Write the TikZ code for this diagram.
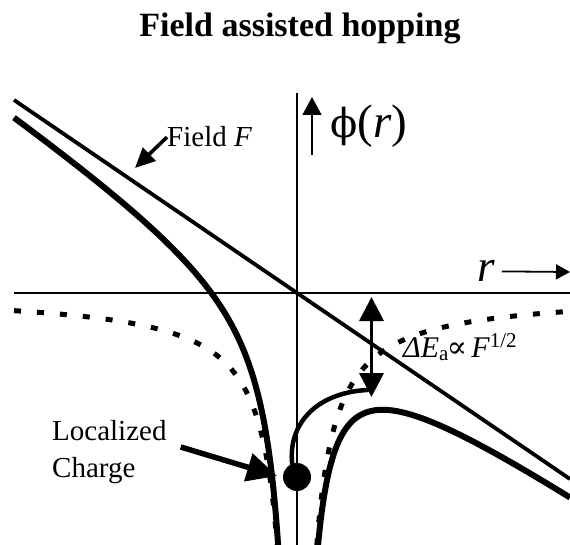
\documentclass[tikz,border=0pt]{standalone}
\usepackage{fontspec}
\setmainfont{Liberation Serif}
\newfontfamily\symf{DejaVu Serif}
\usetikzlibrary{arrows.meta}

\begin{document}
\begin{tikzpicture}[x=1pt, y=-1pt,
  ax/.style={line width=1.8pt},
  axptr/.style={line width=1.6pt, -{Triangle[length=18pt, width=19pt]}},
  rptr/.style={line width=1.8pt, -{Triangle[length=14pt, width=15pt]}},
  fld/.style={line width=3.8pt},
  pot/.style={line width=6pt, line join=round},
  coul/.style={line width=5pt, dash pattern=on 7pt off 16pt},
  ptr/.style={line width=3.6pt, -{Triangle[length=20pt, width=18pt]}},
  bigptr/.style={line width=5.5pt, -{Triangle[length=30pt, width=28pt]}},
  dbl/.style={line width=3.5pt, {Triangle[length=24pt, width=24pt]}-{Triangle[length=24pt, width=24pt]}},
  hop/.style={line width=4.5pt, line cap=round},
  lbl/.style={inner sep=0pt, font=\fontsize{29}{37}\selectfont}
]
\useasboundingbox (0,0) rectangle (570,545);
\node[inner sep=0pt, anchor=base, font=\fontsize{34}{40}\selectfont\bfseries] (title) at (300,37) {Field assisted hopping};

\coordinate (xl) at (14,293); \coordinate (xr) at (570,293);
\coordinate (yt) at (297,93); \coordinate (yb) at (297,545);
\draw[ax] (xl) -- (xr);
\draw[ax] (yt) -- (yb);

\coordinate (fl) at (14,100); \coordinate (fr) at (570,479);
\draw[fld] (fl) -- (fr);

\draw[coul] plot[domain=-283:-19.8, samples=300, smooth] ({297+\x},{293+5000/abs(\x)});
\draw[coul] plot[domain=19.8:273, samples=300, smooth] ({297+\x},{293+5000/abs(\x)});
\draw[pot] plot[domain=-283:-18.8, samples=300, smooth] ({297+\x},{293+0.682*\x+5000/abs(\x)});
\draw[pot] plot[domain=21:273, samples=300, smooth] ({297+\x},{293+0.682*\x+5000/abs(\x)});

\node[circle, fill, minimum size=28pt, inner sep=0pt] (chg) at (297,477) {};
\coordinate (hopend) at (367,390);
\draw[hop] (chg.110) .. controls (288,425) and (315,393) .. (hopend);

\coordinate (gaptop) at (371.5,297); \coordinate (gapbot) at (371.5,397);
\draw[dbl] (gapbot) -- (gaptop);

\node[lbl, anchor=base west] (fieldlbl) at (167,147) {Field \textit{F}};
\coordinate (fieldtip) at (135,168);
\draw[ptr] (fieldlbl.west) -- (fieldtip);

\node[inner sep=0pt, anchor=base west, font=\fontsize{47}{50}\selectfont] (philbl) at (330,138) {{\symf\fontsize{40}{50}\selectfont ϕ}(\textit{r})};
\coordinate (phifoot) at (312,155); \coordinate (phitip) at (312,97);
\draw[axptr] (phifoot) -- (phitip);

\node[inner sep=0pt, anchor=base west, font=\fontsize{45}{50}\selectfont\itshape] (rlbl) at (477,282) {r};
\coordinate (rtip) at (570,272);
\draw[rptr] ([xshift=7pt]rlbl.east) -- (rtip);

\node[inner sep=0pt, anchor=base west, font=\fontsize{30}{36}\selectfont] (gaplbl) at (403,357) {\textit{ΔE}\textsubscript{a}\kern-2pt{\symf\fontsize{30}{36}\selectfont ∝}\kern4pt\textit{F}\textsuperscript{1/2}};

\node[lbl, align=left, anchor=west] (chglbl) at (52,452) {Localized\\Charge};
\coordinate (chgtip) at (277,476);
\draw[bigptr] ([xshift=14pt,yshift=5pt]chglbl.east) -- (chgtip);
\end{tikzpicture}
\end{document}
